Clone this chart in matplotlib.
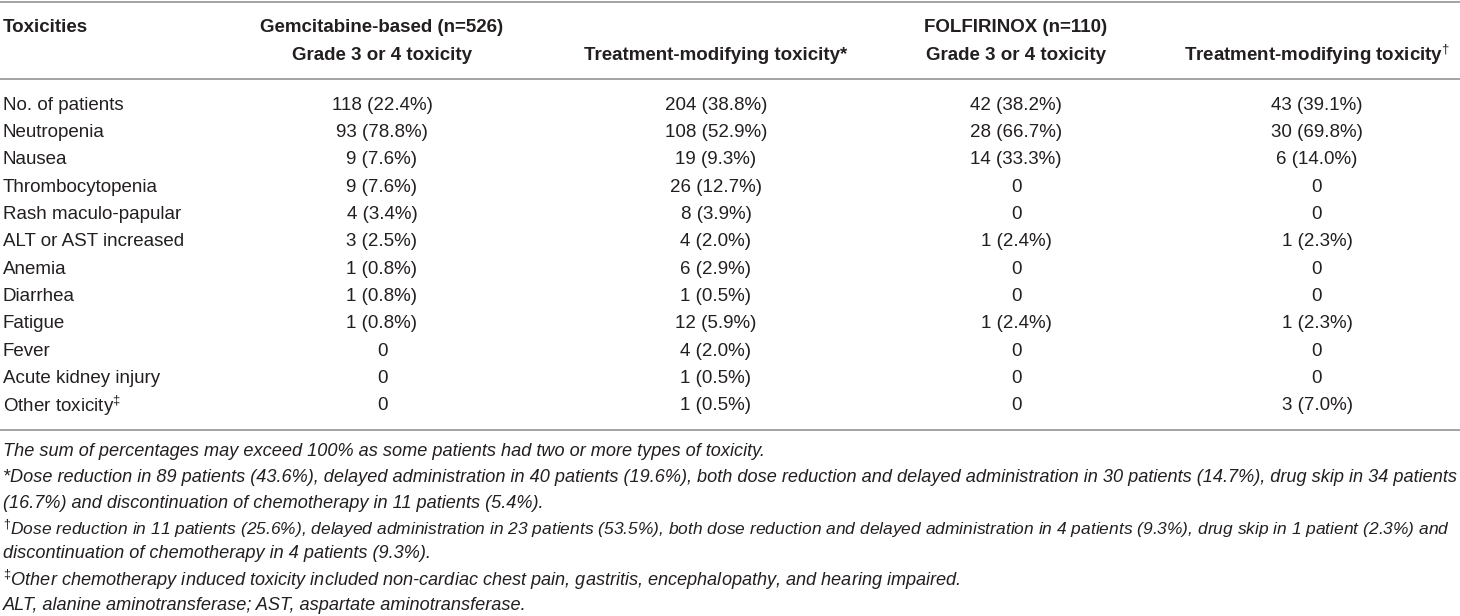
import matplotlib
matplotlib.use("Agg")
from matplotlib import pyplot as plt

plt.rcParams['font.family'] = ['Liberation Sans', 'DejaVu Sans']
plt.rcParams['mathtext.fontset'] = 'custom'
plt.rcParams['mathtext.rm'] = 'Liberation Sans'
plt.rcParams['mathtext.it'] = 'Liberation Sans:italic'

# table content
toxicities = ["No. of patients", "Neutropenia", "Nausea", "Thrombocytopenia",
              "Rash maculo-papular", "ALT or AST increased", "Anemia", "Diarrhea",
              "Fatigue", "Fever", "Acute kidney injury", "Other toxicity$^{\u2021}$"]
gem_grade34 = ["118 (22.4%)", "93 (78.8%)", "9 (7.6%)", "9 (7.6%)", "4 (3.4%)", "3 (2.5%)",
               "1 (0.8%)", "1 (0.8%)", "1 (0.8%)", "0", "0", "0"]
gem_modify = ["204 (38.8%)", "108 (52.9%)", "19 (9.3%)", "26 (12.7%)", "8 (3.9%)", "4 (2.0%)",
              "6 (2.9%)", "1 (0.5%)", "12 (5.9%)", "4 (2.0%)", "1 (0.5%)", "1 (0.5%)"]
fol_grade34 = ["42 (38.2%)", "28 (66.7%)", "14 (33.3%)", "0", "0", "1 (2.4%)",
               "0", "0", "1 (2.4%)", "0", "0", "0"]
fol_modify = ["43 (39.1%)", "30 (69.8%)", "6 (14.0%)", "0", "0", "1 (2.3%)",
              "0", "0", "1 (2.3%)", "0", "0", "3 (7.0%)"]

group_labels = ["Gemcitabine-based (n=526)", "", "FOLFIRINOX (n=110)", ""]
col_labels = ["Grade 3 or 4 toxicity", "Treatment-modifying toxicity*",
              "Grade 3 or 4 toxicity", "Treatment-modifying toxicity$^{\u2020}$"]

footnotes = [
    "The sum of percentages may exceed 100% as some patients had two or more types of toxicity.",
    "*Dose reduction in 89 patients (43.6%), delayed administration in 40 patients (19.6%), both dose reduction and delayed administration in 30 patients (14.7%), drug skip in 34 patients",
    "(16.7%) and discontinuation of chemotherapy in 11 patients (5.4%).",
    "$^{\u2020}$Dose reduction in 11 patients (25.6%), delayed administration in 23 patients (53.5%), both dose reduction and delayed administration in 4 patients (9.3%), drug skip in 1 patient (2.3%) and",
    "discontinuation of chemotherapy in 4 patients (9.3%).",
    "$^{\u2021}$Other chemotherapy induced toxicity included non-cardiac chest pain, gastritis, encephalopathy, and hearing impaired.",
    "ALT, alanine aminotransferase; AST, aspartate aminotransferase.",
]

txt = '#231f20'
rule = '#a3a3a3'
fs = 13.5
fs_note = 13.1

fig = plt.figure(figsize=(14.6, 6.16), dpi=100)
ax = fig.add_axes([0, 0, 1, 1])
ax.set_xlim(0, 1460)
ax.set_ylim(616, 0)
ax.axis('off')

col_x = [382, 716, 1016, 1317]
row0 = 105
row_h = 27.35

ax.hlines([1.5, 79, 430], 0, 1460, colors=rule, lw=1.4)

# header
ax.text(3, 27, "Toxicities", ha='left', va='center', fontsize=fs, fontweight='bold', color=txt)
for x, g, c in zip(col_x, group_labels, col_labels):
    if g:
        ax.text(x, 27, g, ha='center', va='center', fontsize=fs, fontweight='bold', color=txt)
    ax.text(x, 55, c, ha='center', va='center', fontsize=fs, fontweight='bold', color=txt)

# body
columns = [gem_grade34, gem_modify, fol_grade34, fol_modify]
for i, name in enumerate(toxicities):
    y = row0 + i * row_h
    ax.text(3, y, name, ha='left', va='center', fontsize=fs, color=txt)
    for x, col in zip(col_x, columns):
        ax.text(x, y, col[i], ha='center', va='center', fontsize=fs, color=txt)

# footnotes
for j, note in enumerate(footnotes):
    size = fs_note
    if j == 3:
        size = 12.55
    ax.text(3, 452 + j * 25.5, note, ha='left', va='center', fontsize=size,
            style='italic', color=txt)

plt.savefig('out.png', dpi=100)
